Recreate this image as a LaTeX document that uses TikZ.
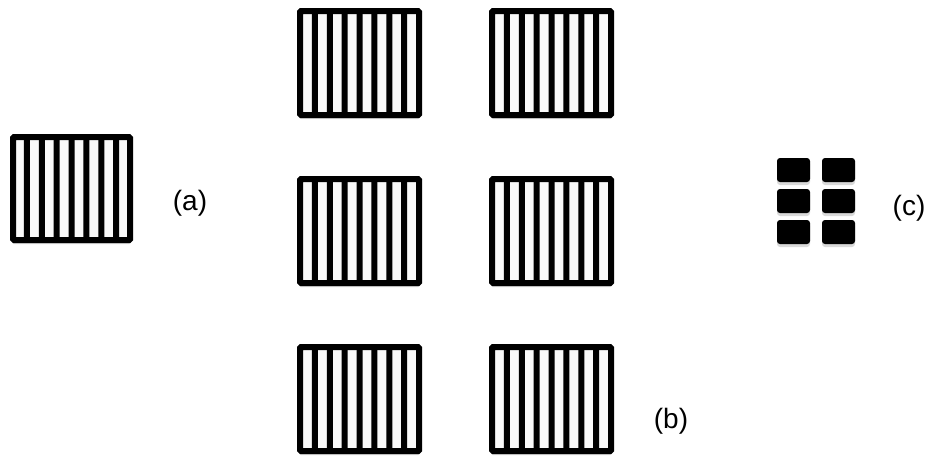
\documentclass[tikz,border=0pt]{standalone}
\usepackage{fontspec}
\setmainfont{Liberation Sans}
\usetikzlibrary{positioning,shadows}

\begin{document}
\begin{tikzpicture}[
  x=1pt, y=-1pt,
  font=\fontsize{28}{34}\selectfont,
  grating/.style={draw, line width=6pt, fill=gray!5, rounded corners=1pt,
    minimum width=119pt, minimum height=104pt, inner sep=0pt,
    drop shadow={shadow xshift=0pt, shadow yshift=-4pt, opacity=.3, fill=gray},
    path picture={
      \foreach \bx in {-3,...,3}
        \fill[black] ([xshift=\bx*14.875pt-3pt]path picture bounding box.south)
          rectangle ([xshift=\bx*14.875pt+3pt]path picture bounding box.north);
    }},
  cell/.style={fill=black, rounded corners=3pt, minimum width=33pt,
    minimum height=24pt, inner sep=0pt, outer sep=0pt,
    drop shadow={shadow xshift=0pt, shadow yshift=-3pt, opacity=.3, fill=gray}},
  tag/.style={inner sep=0pt}
]
\useasboundingbox (0,0) rectangle (926,456);

% (a) single grating
\node[grating, minimum width=117pt, minimum height=103pt] (ga) at (71.5,188.5) {};
\node[tag] (la) at (190,203.5) {(a)};

% (b) six gratings
\node[grating] (b11) at (359.5,63) {};
\node[grating, right=67pt of b11] (b12) {};
\node[grating, below=58pt of b11] (b21) {};
\node[grating, right=67pt of b21] (b22) {};
\node[grating, below=58pt of b21] (b31) {};
\node[grating, right=67pt of b31] (b32) {};
\node[tag] (lb) at (671,421) {(b)};

% (c) small squares
\node[cell] (c11) at (793.5,170) {};
\node[cell, right=12pt of c11] (c12) {};
\node[cell, below=7pt of c11] (c21) {};
\node[cell, right=12pt of c21] (c22) {};
\node[cell, below=7pt of c21] (c31) {};
\node[cell, right=12pt of c31] (c32) {};
\node[tag] (lc) at (909,208.5) {(c)};
\end{tikzpicture}
\end{document}
